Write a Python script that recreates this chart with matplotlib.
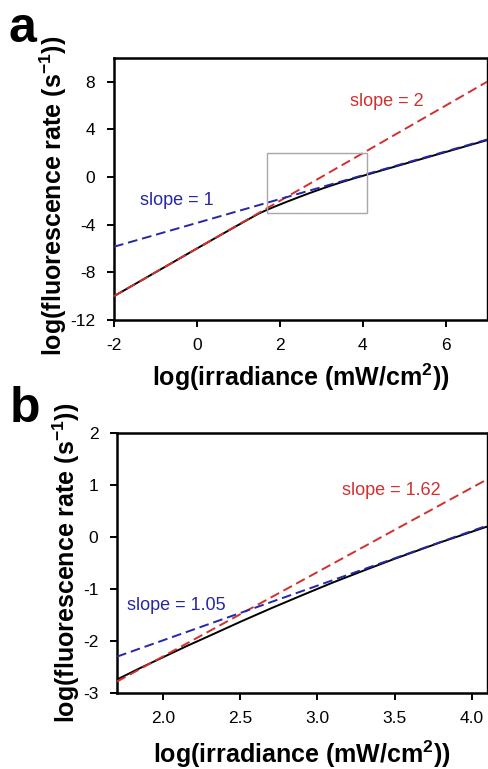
import numpy as np
import matplotlib
matplotlib.use("Agg")
import matplotlib.pyplot as plt
from matplotlib.patches import Rectangle

plt.rcParams["font.family"] = ["Liberation Sans", "DejaVu Sans"]
plt.rcParams["mathtext.fontset"] = "custom"
plt.rcParams["mathtext.rm"] = "Liberation Sans"
plt.rcParams["mathtext.bf"] = "Liberation Sans:bold"
plt.rcParams["axes.unicode_minus"] = False

# measured curve: log fluorescence rate vs log irradiance
curve_x = [-2, -1, 0, 1, 1.5, 1.7, 1.85, 2.0, 2.15, 2.3, 2.5, 2.7, 2.9,
           3.1, 3.3, 3.5, 3.8, 4.1, 5, 6, 7]
curve_y = [-10, -8, -6.0, -4.02, -3.05, -2.74, -2.52, -2.31, -2.10, -1.90,
           -1.63, -1.37, -1.12, -0.875, -0.645, -0.42, -0.10, 0.20, 1.1, 2.1, 3.1]

# asymptotic fits (slope, intercept)
fit_a_red = (2.0, -6.0)
fit_a_blue = (1.0, -3.85)
fit_b_red = (1.62, -5.534)
fit_b_blue = (1.05, -4.085)

# zoom window shown in panel b
zoom_x = (1.7, 4.1)
zoom_y = (-3, 2)

xticks_a = [-2, 0, 2, 4, 6]
yticks_a = [-12, -8, -4, 0, 4, 8]
xticks_b = [2.0, 2.5, 3.0, 3.5, 4.0]
yticks_b = [-3, -2, -1, 0, 1, 2]

RED = "#d2302f"
BLUE = "#2626a6"

xlab = r"log(irradiance (mW/cm$\mathbf{^2}$))"
ylab = r"log(fluorescence rate (s$\mathbf{^{-1}}$))"

fig = plt.figure(figsize=(4.88, 7.69), dpi=100)
ax_a = fig.add_axes([0.2336, 0.5839, 0.7644, 0.3407])
ax_b = fig.add_axes([0.2398, 0.0988, 0.7582, 0.3381])


def fit_line(ax, fit, xlim, color):
    xs = np.array(xlim)
    ax.plot(xs, fit[0] * xs + fit[1], color=color, lw=1.4,
            ls=(0, (5, 2.5)), zorder=3)


def style(ax, xlim, ylim, xt, yt, fmt, xpad, ycenter):
    ax.set_xlim(*xlim)
    ax.set_ylim(*ylim)
    ax.set_xticks(xt)
    ax.set_yticks(yt)
    ax.set_xticklabels([fmt.format(v) for v in xt])
    ax.tick_params(direction="out", length=5, width=1.4, labelsize=12.5,
                   top=False, right=False)
    ax.tick_params(axis="x", pad=8)
    ax.tick_params(axis="y", pad=8.5)
    for side in ["left", "bottom", "top"]:
        ax.spines[side].set_linewidth(1.8)
    ax.spines["right"].set_linewidth(1.0)
    ax.set_xlabel(xlab, fontsize=18, fontweight="bold", labelpad=xpad)
    ax.set_ylabel(ylab, fontsize=18, fontweight="bold", labelpad=0.5)
    ax.yaxis.label.set_y(ycenter)


# panel a
xlim_a = (-2, 7)
ax_a.plot(curve_x, curve_y, color="black", lw=1.4, zorder=2)
fit_line(ax_a, fit_a_red, xlim_a, RED)
fit_line(ax_a, fit_a_blue, xlim_a, BLUE)
ax_a.add_patch(Rectangle((zoom_x[0], zoom_y[0]), zoom_x[1] - zoom_x[0],
                         zoom_y[1] - zoom_y[0], fill=False,
                         edgecolor="#a8a8a8", lw=1.0, zorder=4))
ax_a.text(3.70, 6.33, "slope = 2", color=RED, fontsize=13,
          ha="left", va="center")
ax_a.text(-1.37, -2.0, "slope = 1", color=BLUE, fontsize=13,
          ha="left", va="center")
style(ax_a, xlim_a, (-12, 10), xticks_a, yticks_a, "{:g}", 6, 0.475)

# panel b
ax_b.plot(curve_x, curve_y, color="black", lw=1.4, zorder=2)
fit_line(ax_b, fit_b_red, zoom_x, RED)
fit_line(ax_b, fit_b_blue, zoom_x, BLUE)
ax_b.text(3.16, 0.9, "slope = 1.62", color=RED, fontsize=13,
          ha="left", va="center")
ax_b.text(1.765, -1.31, "slope = 1.05", color=BLUE, fontsize=13,
          ha="left", va="center")
style(ax_b, zoom_x, zoom_y, xticks_b, yticks_b, "{:.1f}", 9, 0.5)

fig.text(0.018, 0.945, "a", fontsize=36, fontweight="bold", va="baseline")
fig.text(0.020, 0.451, "b", fontsize=36, fontweight="bold", va="baseline")

fig.savefig("out.png", dpi=100)
